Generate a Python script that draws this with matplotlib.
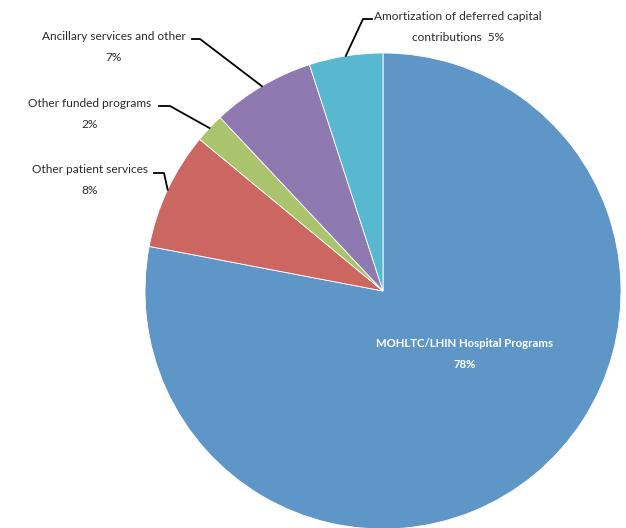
import numpy as np
import matplotlib
matplotlib.use("Agg")
import matplotlib.pyplot as plt

# slice data, clockwise from 12 o'clock
labels = ["MOHLTC/LHIN Hospital Programs", "Other patient services",
          "Other funded programs", "Ancillary services and other",
          "Amortization of deferred capital\ncontributions  5%"]
values = [78, 8, 2, 7, 5]
colors = ["#5f96c8", "#cb6660", "#a9c46d", "#8f79b1", "#57b8cf"]

plt.rcParams['font.family'] = ['Lato', 'DejaVu Sans']

W, H = 626, 528
fig = plt.figure(figsize=(W / 100, H / 100), dpi=100)
cx, cy, R = 383, 291, 238
ax = fig.add_axes([(cx - R) / W, (H - cy - R) / H, 2 * R / W, 2 * R / H])

wedges, _ = ax.pie(values, colors=colors, startangle=90, counterclock=False,
                   radius=1, wedgeprops=dict(edgecolor='white', linewidth=0.6))
for w in wedges:
    w.set_clip_on(False)
ax.set_xlim(-1, 1)
ax.set_ylim(-1, 1)
ax.set_aspect('equal')
ax.axis('off')


def px(x, y):
    return (x - cx) / R, (cy - y) / R


# big label inside the main slice
tx, ty = px(465, 354)
ax.text(tx, ty, f"{labels[0]}\n{values[0]}%", color='white', fontsize=8.2,
        fontweight='bold', ha='center', va='center', linespacing=2.1)

# outside labels: (text centre px, leader start px, leader elbow px)
outside = {
    1: ((90, 180), (154, 173), (164, 173)),
    2: ((90, 114), (159, 106), (170, 106)),
    3: ((114, 47), (192, 39), (200, 39)),
    4: ((458, 27), (372, 19), (363, 19)),
}
for i, (tpos, p0, p1) in outside.items():
    w = wedges[i]
    mid = np.deg2rad((w.theta1 + w.theta2) / 2)
    ex, ey = np.cos(mid), np.sin(mid)
    x0, y0 = px(*p0)
    x1, y1 = px(*p1)
    ax.plot([x0, x1, ex], [y0, y1, ey], color='black', lw=1.3, clip_on=False)
    txt = labels[i] if i == 4 else f"{labels[i]}\n{values[i]}%"
    tx, ty = px(*tpos)
    ax.text(tx, ty, txt, fontsize=8.6, color='#2a2a2a', ha='center',
            va='center', linespacing=2.15, clip_on=False)

fig.savefig("out.png", dpi=100)
